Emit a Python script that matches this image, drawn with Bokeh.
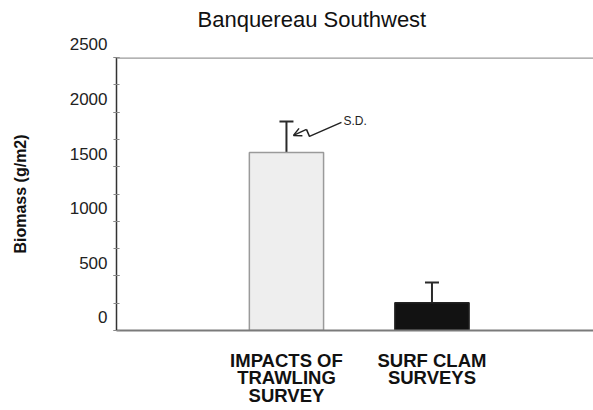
import numpy as np
from bokeh.plotting import figure
from bokeh.models import (ColumnDataSource, FixedTicker, SingleIntervalTicker, Span,
                          Label, Whisker, TeeHead, Arrow, OpenHead, Range1d)
from bokeh.embed import file_html
from bokeh.resources import INLINE

# --- data -------------------------------------------------------------
categories = ["IMPACTS OF\nTRAWLING\nSURVEY", "SURF CLAM\nSURVEYS"]
biomass = [1630, 255]          # mean biomass, g/m2
sd = [285, 185]                # standard deviation, g/m2
y_ticks = [0, 500, 1000, 1500, 2000, 2500]
title = "Banquereau Southwest"

# --- styling / layout -------------------------------------------------
bar_fill = ["#eeeeee", "#121212"]
bar_line = ["#9a9a9a", "#222222"]
FONT = "Liberation Sans"

LEFT, TOP, BOTTOM = 116, 57, 80
FRAME_W, FRAME_H = 477, 273
X0, X1 = -0.168, 3.11
Y0, Y1 = 0, 2500
px_x = FRAME_W / (X1 - X0)
px_y = FRAME_H / (Y1 - Y0)

xs = [1, 2]
upper = [m + s for m, s in zip(biomass, sd)]
src = ColumnDataSource(dict(x=xs, top=biomass, upper=upper, fill=bar_fill, line=bar_line))

p = figure(frame_width=FRAME_W, frame_height=FRAME_H,
           x_range=Range1d(X0, X1), y_range=Range1d(Y0, Y1),
           output_backend="svg", toolbar_location=None,
           min_border_left=LEFT, min_border_right=0, min_border_top=TOP,
           min_border_bottom=BOTTOM)
p.outline_line_color = None
p.grid.visible = False

# title: a blank second line lifts it towards the top of the page
p.title.text = title + "\n"
p.title.align = "left"
p.title.offset = 81
p.title.standoff = 4
p.title.text_line_height = 0.96
p.title.text_font = FONT
p.title.text_font_size = "22px"
p.title.text_font_style = "normal"
p.title.text_color = "#111111"

# bars and SD whiskers
p.vbar(x="x", top="top", bottom=0, width=0.51, fill_color="fill", line_color="line",
       line_width=1.5, source=src)
p.add_layout(Whisker(base="x", upper="upper", lower="top", source=src, dimension="height",
                     line_color="#2a2a2a", line_width=2,
                     upper_head=TeeHead(size=14, line_color="#2a2a2a", line_width=2),
                     lower_head=None))

# top rule along the upper edge of the frame
p.add_layout(Span(location=Y1, dimension="width", line_color="#9a9a9a", line_width=2.5))

# y axis: numbers sit just above their ticks (a blank second line lifts each one)
yax = p.yaxis[0]
yax.ticker = SingleIntervalTicker(interval=500, num_minor_ticks=2)
yax.axis_line_color = "#333333"
yax.axis_line_width = 1.5
yax.major_tick_in = 3
yax.major_tick_out = 3
yax.minor_tick_in = 3
yax.minor_tick_out = 3
yax.major_tick_line_color = "#888888"
yax.minor_tick_line_color = "#888888"
yax.major_label_overrides = {v: f"{v}\n" for v in y_ticks}
yax.major_label_standoff = 6
yax.major_label_text_line_height = 1.33
yax.major_label_text_font = FONT
yax.major_label_text_font_size = "17px"
yax.major_label_text_color = "#222222"
yax.axis_label = "Biomass (g/m2)"
yax.axis_label_standoff = 38
yax.axis_label_text_font = FONT
yax.axis_label_text_font_size = "16px"
yax.axis_label_text_font_style = "bold"
yax.axis_label_text_color = "#111111"

# x axis with category names
xax = p.xaxis[0]
xax.ticker = FixedTicker(ticks=xs)
xax.major_label_overrides = {x: c for x, c in zip(xs, categories)}
xax.axis_line_color = "#7a7a7a"
xax.axis_line_width = 2
xax.major_tick_line_color = None
xax.minor_tick_line_color = None
xax.major_tick_out = 0
xax.major_tick_in = 0
xax.major_label_standoff = 19
xax.major_label_text_font = FONT
xax.major_label_text_font_size = "18.5px"
xax.major_label_text_font_style = "bold"
xax.major_label_text_line_height = 0.85
xax.major_label_text_color = "#111111"

# "S.D." callout with a zigzag arrow pointing at the first whisker
ax, ay = xs[0], upper[0]
def to_data(dx, dy):
    return ax + dx / px_x, ay - dy / px_y

path = [to_data(*d) for d in [(55, 1), (23, 15), (20, 8)]]
tip = to_data(7, 14)
p.line([q[0] for q in path], [q[1] for q in path], line_color="#222222", line_width=1.5)
p.add_layout(Arrow(x_start=path[-1][0], y_start=path[-1][1], x_end=tip[0], y_end=tip[1],
                   line_color="#222222", line_width=1.5,
                   end=OpenHead(size=8, line_color="#222222", line_width=1.5)))
p.add_layout(Label(x=ax, y=ay, x_offset=57, text="S.D.", text_align="left",
                   text_baseline="middle", text_font=FONT, text_font_size="12px",
                   text_color="#222222"))

open("out.html", "w").write(file_html(p, INLINE))
